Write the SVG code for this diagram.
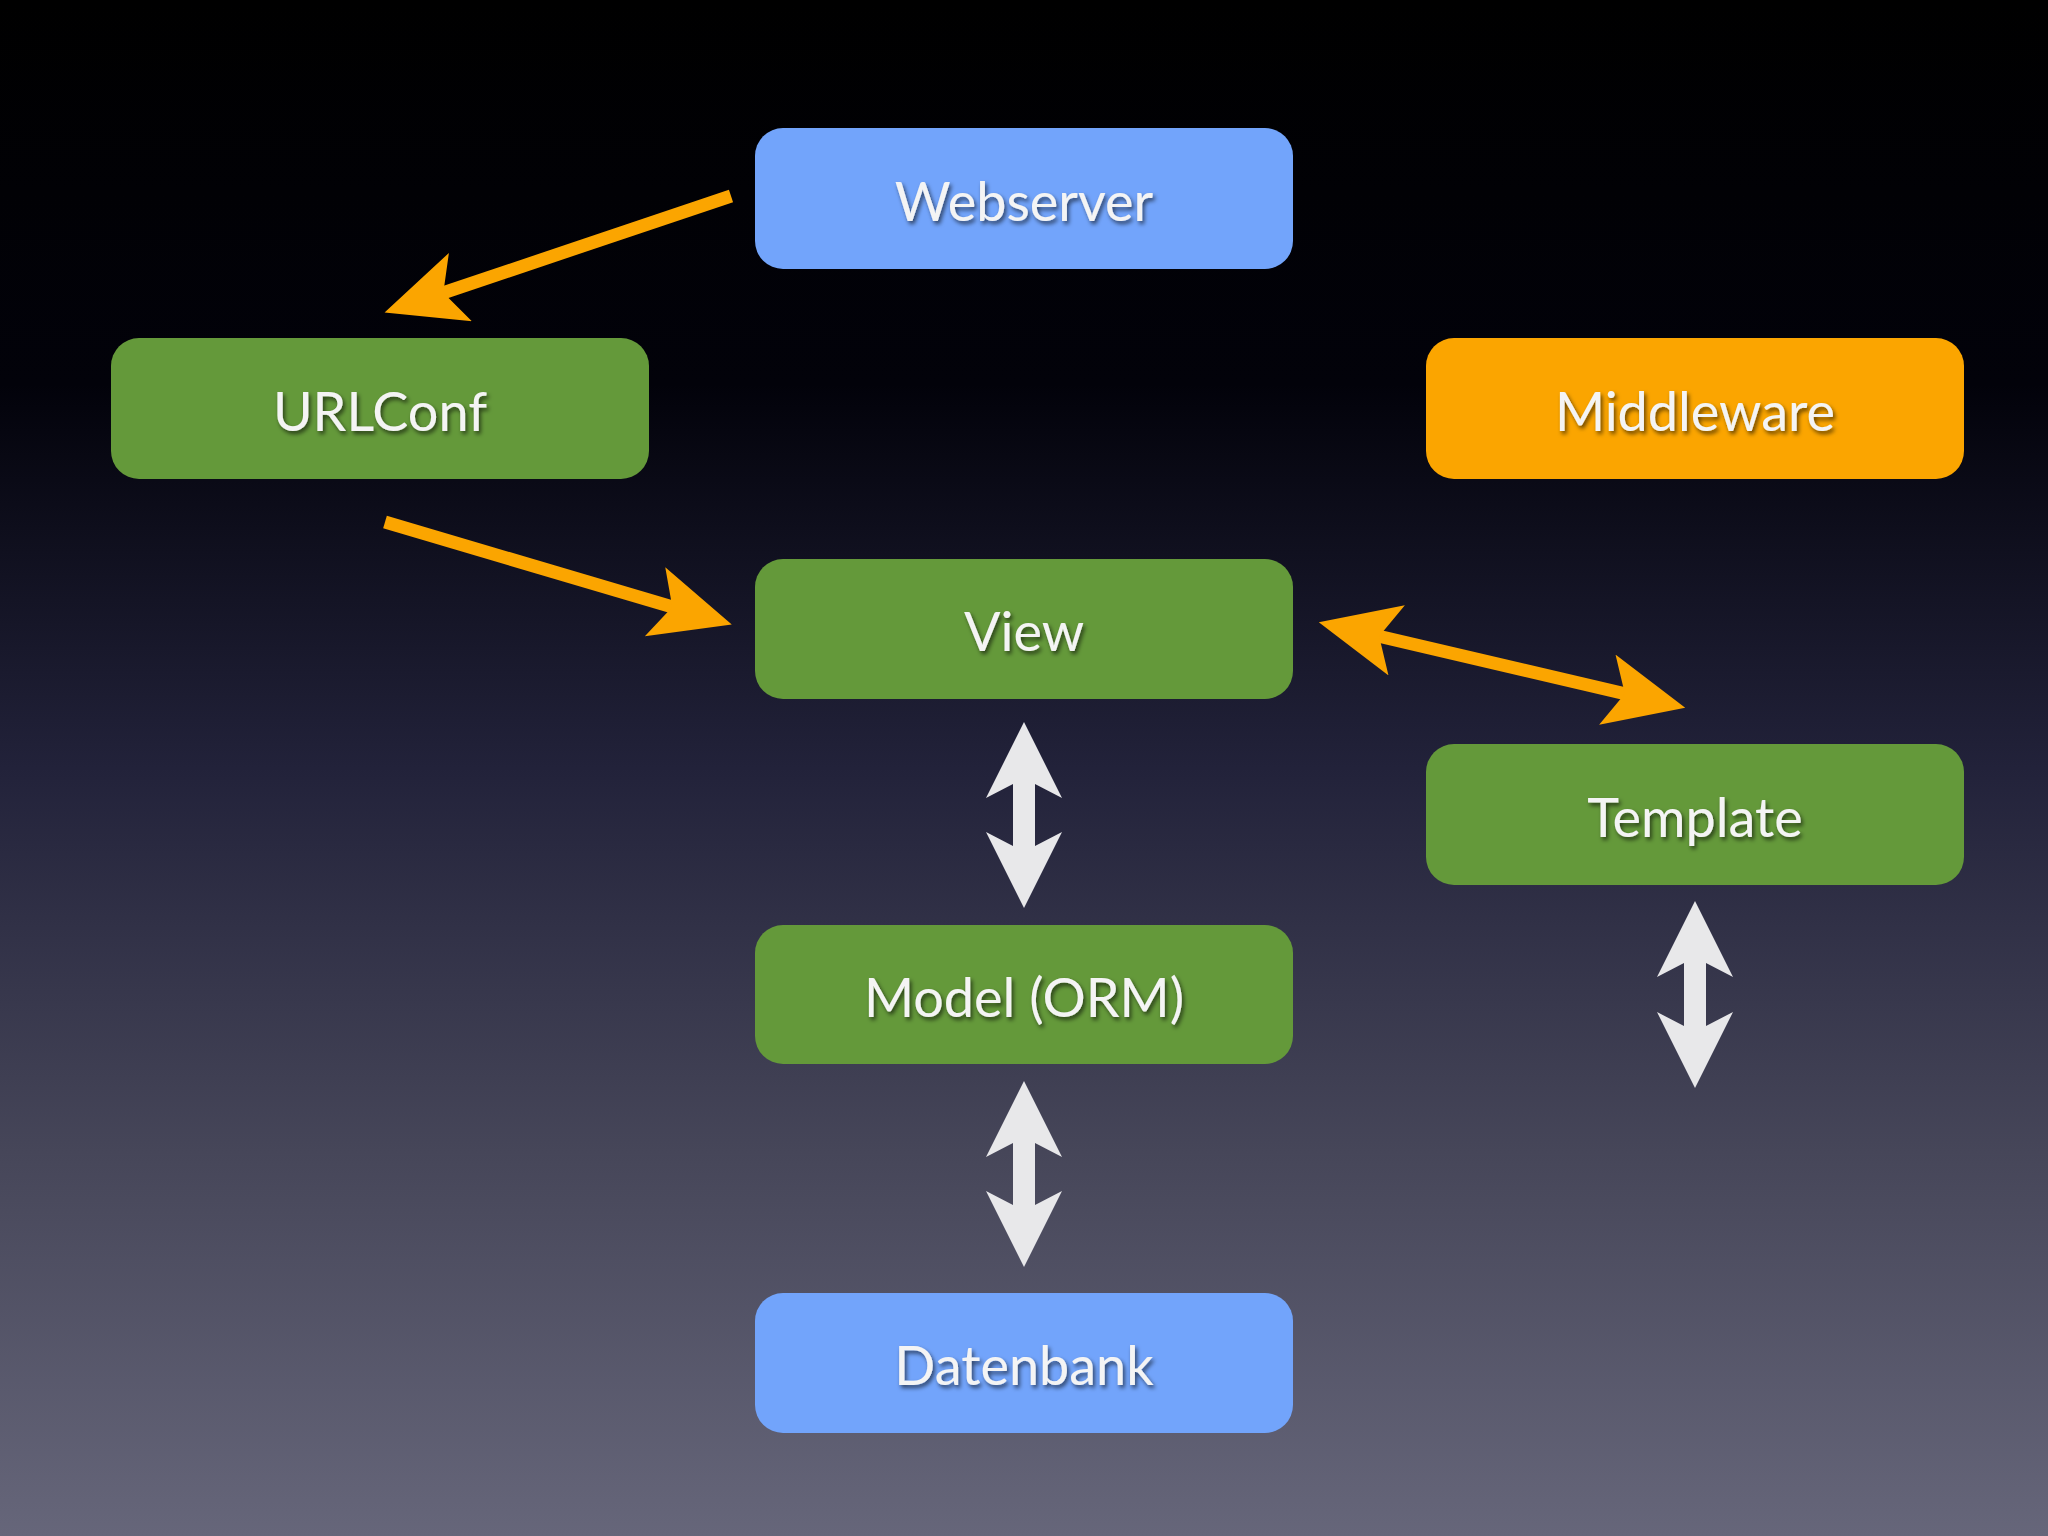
<svg xmlns="http://www.w3.org/2000/svg" width="2048" height="1536" viewBox="0 0 2048 1536">
<defs>
<linearGradient id="bg" x1="0" y1="0" x2="0" y2="1">
<stop offset="0" stop-color="#000000"/>
<stop offset="0.25" stop-color="#02020a"/>
<stop offset="0.5" stop-color="#22223a"/>
<stop offset="0.75" stop-color="#464659"/>
<stop offset="1" stop-color="#66667a"/>
</linearGradient>
<marker id="oh" markerUnits="userSpaceOnUse" markerWidth="90" markerHeight="80" refX="50" refY="36" orient="auto-start-reverse">
<path d="M80,36 L0,0 L18,36 L0,72 z" fill="#fba500"/>
</marker>
<filter id="sh" x="-10%" y="-10%" width="120%" height="130%">
<feDropShadow dx="2" dy="3" stdDeviation="2" flood-color="#000" flood-opacity="0.6"/>
</filter>
</defs>
<style>
.blue{fill:#72a4fb}
.green{fill:#64993a}
.orange{fill:#fba500}
.lbl{font-family:Lato,"Open Sans",sans-serif;font-size:54px;fill:#f4f4f4;text-anchor:middle;dominant-baseline:central;filter:url(#sh)}
.oa{stroke:#fba500;stroke-width:13;fill:none}
.wa{fill:#e8e8ea}
</style>
<rect width="2048" height="1536" fill="url(#bg)"/>
<g id="connectors">
<line class="oa" x1="731" y1="196" x2="413" y2="303" marker-end="url(#oh)"/>
<line class="oa" x1="385" y1="522" x2="703" y2="616" marker-end="url(#oh)"/>
<line class="oa" x1="1348" y1="629" x2="1656" y2="701" marker-start="url(#oh)" marker-end="url(#oh)"/>
<polygon class="wa" points="1024,722 1062,798 1035,784 1035,846 1062,832 1024,908 986,832 1013,846 1013,784 986,798"/>
<polygon class="wa" points="1024,1081 1062,1157 1035,1143 1035,1205 1062,1191 1024,1267 986,1191 1013,1205 1013,1143 986,1157"/>
<polygon class="wa" points="1695,901 1733,977 1706,963 1706,1026 1733,1012 1695,1088 1657,1012 1684,1026 1684,963 1657,977"/>
</g>
<g id="webserver"><rect class="blue" x="755" y="128" width="538" height="141" rx="28"/><text class="lbl" x="1024" y="200">Webserver</text></g>
<g id="urlconf"><rect class="green" x="111" y="338" width="538" height="141" rx="28"/><text class="lbl" x="380" y="410">URLConf</text></g>
<g id="middleware"><rect class="orange" x="1426" y="338" width="538" height="141" rx="28"/><text class="lbl" x="1695" y="410">Middleware</text></g>
<g id="view"><rect class="green" x="755" y="559" width="538" height="140" rx="28"/><text class="lbl" x="1024" y="630">View</text></g>
<g id="template"><rect class="green" x="1426" y="744" width="538" height="141" rx="28"/><text class="lbl" x="1695" y="816">Template</text></g>
<g id="model"><rect class="green" x="755" y="925" width="538" height="139" rx="28"/><text class="lbl" x="1024" y="996">Model (ORM)</text></g>
<g id="datenbank"><rect class="blue" x="755" y="1293" width="538" height="140" rx="28"/><text class="lbl" x="1024" y="1364">Datenbank</text></g>
</svg>
